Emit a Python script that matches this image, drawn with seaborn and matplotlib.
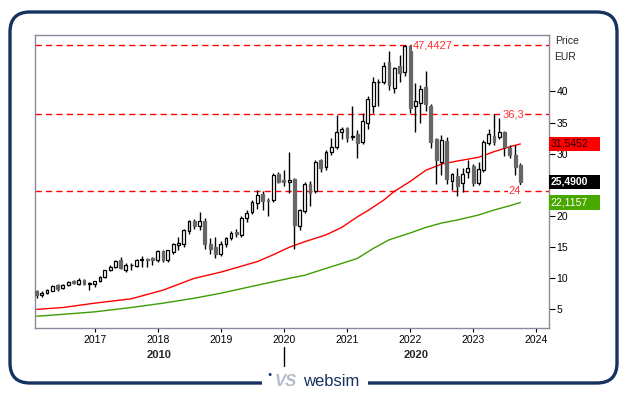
import numpy as np
import pandas as pd
import matplotlib
matplotlib.use("Agg")
import matplotlib.pyplot as plt
import matplotlib.dates as mdates
import matplotlib.patches as mpatches
import matplotlib.transforms as mtrans
import seaborn as sns

# ---------------- data (monthly candles, EUR) ----------------
start_month = "2016-02"
opens = [7.8, 7.2, 7.5, 7.9, 8.8, 8.3, 8.8, 9.4, 9.0, 9.6, 9.0,
         9.0, 9.4, 10.1, 11.2, 11.7, 12.8, 11.2, 12.0, 11.9, 12.9, 13.0, 13.1,
         12.8, 14.3, 12.9, 14.2, 15.2, 15.4, 17.6, 19.1, 18.4, 19.2, 15.5, 15.0,
         13.8, 15.5, 16.4, 17.4, 16.9, 19.7, 20.6, 22.0, 23.5, 22.6, 22.5, 26.7,
         25.7, 25.5, 25.9, 18.4, 20.7, 25.1, 23.9, 28.9, 27.9, 30.3, 31.0, 33.4,
         34.1, 32.7, 33.2, 31.8, 35.0, 37.7, 41.5, 41.6, 44.7, 40.5, 44.1, 43.2,
         47.3, 37.7, 38.1, 40.7, 37.7, 32.3, 28.7, 32.1, 25.6, 26.4, 25.2, 27.1,
         28.0, 25.2, 27.4, 31.7, 32.9, 32.7, 33.5, 30.9, 29.8, 28.2]
highs = [8.1, 7.9, 8.2, 8.9, 9.0, 9.0, 9.5, 9.6, 9.9, 9.8, 9.3,
         9.5, 10.3, 11.3, 12.0, 12.9, 13.4, 12.3, 12.3, 13.0, 13.5, 13.1, 13.4,
         14.5, 14.5, 14.5, 15.6, 16.5, 17.9, 19.3, 19.5, 20.6, 19.6, 16.4, 16.5,
         15.9, 16.6, 17.6, 17.8, 19.9, 20.9, 22.6, 24.1, 24.0, 22.8, 26.8, 27.0,
         27.4, 30.3, 26.0, 21.0, 25.4, 25.6, 29.0, 29.2, 30.5, 32.5, 36.2, 34.2,
         34.3, 37.6, 33.8, 36.5, 39.2, 42.3, 42.0, 44.7, 46.5, 44.0, 45.9, 47.4427,
         47.4427, 41.4, 41.1, 43.3, 38.0, 32.5, 33.0, 32.6, 26.9, 27.6, 27.6, 29.0,
         28.3, 28.6, 32.2, 33.9, 36.3, 35.7, 33.6, 31.4, 31.4, 28.5]
lows = [6.7, 6.9, 7.3, 7.8, 7.8, 8.2, 8.6, 9.0, 8.9, 8.8, 8.0,
        8.5, 9.3, 10.0, 11.1, 11.6, 11.4, 10.9, 11.3, 11.8, 11.8, 11.7, 12.1,
        12.5, 12.6, 12.5, 13.9, 14.5, 15.0, 17.1, 17.9, 17.7, 14.6, 13.8, 13.2,
        13.5, 15.0, 16.0, 16.6, 16.5, 19.0, 20.2, 21.1, 20.9, 19.9, 22.2, 25.2,
        24.8, 23.6, 14.7, 17.7, 20.4, 21.6, 23.6, 27.0, 27.4, 29.8, 30.8, 32.4,
        31.8, 32.2, 29.3, 31.5, 34.0, 36.5, 37.7, 41.2, 40.3, 39.7, 41.6, 42.5,
        36.5, 33.5, 35.0, 36.8, 30.9, 25.1, 26.5, 25.1, 24.1, 23.2, 23.8, 26.0,
        24.7, 25.0, 27.0, 31.3, 31.4, 32.3, 29.6, 29.3, 26.5, 24.0]
closes = [7.2, 7.6, 8.0, 8.7, 8.2, 8.9, 9.3, 9.1, 9.6, 9.0, 9.1,
          9.4, 10.1, 11.2, 11.8, 12.7, 11.5, 12.0, 12.1, 12.8, 13.0, 12.9, 12.8,
          14.3, 12.9, 14.4, 15.4, 15.55, 17.7, 19.2, 18.3, 19.1, 15.4, 14.7, 13.9,
          15.5, 16.35, 17.15, 17.0, 19.7, 20.4, 22.2, 23.3, 22.3, 22.4, 26.6, 25.5,
          25.5, 25.7, 18.5, 20.9, 25.05, 23.6, 28.7, 27.7, 30.3, 31.0, 33.4, 33.9,
          32.5, 32.8, 31.7, 35.2, 38.8, 41.5, 41.6, 44.1, 41.0, 43.8, 43.0, 47.3,
          37.3, 38.4, 40.4, 38.0, 31.9, 29.0, 32.2, 25.9, 26.7, 24.8, 26.7, 27.6,
          25.2, 27.5, 31.9, 33.2, 31.9, 33.5, 31.1, 29.8, 27.9, 25.49]

ma_red_dates = ["2016-02", "2016-07", "2017-01", "2017-08", "2018-02", "2018-08",
                "2019-01", "2019-08", "2019-11", "2020-02", "2020-05", "2020-09",
                "2020-12", "2021-03", "2021-05", "2021-08", "2021-10", "2022-01",
                "2022-04", "2022-07", "2022-10", "2023-02", "2023-05", "2023-08",
                "2023-10"]
ma_red_values = [4.9, 5.2, 5.9, 6.6, 8.0, 9.9, 10.9, 12.6, 13.7, 14.9, 15.8, 16.9,
                 18.1, 19.8, 20.8, 22.5, 23.9, 25.5, 27.3, 28.3, 28.8, 29.4, 30.3,
                 31.1, 31.5452]
ma_green_dates = ["2016-02", "2016-07", "2017-01", "2017-08", "2018-02", "2018-08",
                  "2019-01", "2019-08", "2019-11", "2020-02", "2020-05", "2020-09",
                  "2020-12", "2021-03", "2021-06", "2021-09", "2022-01", "2022-04",
                  "2022-07", "2022-10", "2023-02", "2023-05", "2023-08", "2023-10"]
ma_green_values = [3.8, 4.1, 4.5, 5.2, 5.9, 6.7, 7.5, 8.8, 9.35, 9.9, 10.4, 11.5,
                   12.3, 13.1, 14.7, 16.1, 17.2, 18.1, 18.8, 19.3, 20.1, 20.9, 21.6,
                   22.1157]

level_values = [47.4427, 36.3, 24.0]
level_labels = ["47,4427", "36,3", "24"]
level_label_dates = ["2022-01-17", "2023-06-20", "2023-07-24"]

last_values = [31.5452, 25.49, 22.1157]
last_labels = ["31,5452", "25,4900", "22,1157"]

year_ticks = [2017, 2018, 2019, 2020, 2021, 2022, 2023, 2024]
price_ticks = [5, 10, 15, 20, 25, 30, 35, 40]
price_tick_labels = ["5", "10", "15", "20", "", "30", "35", "40"]
decade_labels = ["2010", "2020"]
decade_split = "2020-01-01"

# ---------------- style ----------------
sns.set_style("white")
plt.rcParams["font.family"] = ["Liberation Sans", "DejaVu Sans"]

W, H = 629, 395
fig = plt.figure(figsize=(W / 100, H / 100), dpi=100)
fig.patch.set_facecolor("white")

L, R, T, B = 34.5, 549.0, 35.0, 328.0
ax = fig.add_axes([L / W, 1 - B / H, (R - L) / W, (B - T) / H])

dates = pd.date_range(start_month, periods=len(opens), freq="MS")
x = mdates.date2num(dates)
o = np.array(opens); h = np.array(highs); l = np.array(lows); c = np.array(closes)
up = c >= o
bottom = np.minimum(o, c)
height = np.maximum(np.abs(c - o), 0.1)

# moving averages
red_df = pd.DataFrame({"d": mdates.date2num(pd.to_datetime(ma_red_dates)), "v": ma_red_values})
green_df = pd.DataFrame({"d": mdates.date2num(pd.to_datetime(ma_green_dates)), "v": ma_green_values})
sns.lineplot(data=red_df, x="d", y="v", color="#ff0000", lw=1.0, ax=ax, zorder=2)
sns.lineplot(data=green_df, x="d", y="v", color="#3c9e00", lw=1.0, ax=ax, zorder=2)

# levels
for v in level_values:
    ax.axhline(v, color="#ff0000", lw=1.0, linestyle=(0, (4.5, 3.0)), zorder=1)
for v, lab, d in zip(level_values, level_labels, level_label_dates):
    ax.text(mdates.date2num(pd.Timestamp(d)), v, lab, color="#ff3030", fontsize=8,
            ha="left", va="center", zorder=5,
            bbox=dict(fc="white", ec="none", pad=0.6))

# candles
ax.vlines(x, l, h, color="black", lw=1.0, zorder=3)
ax.bar(x[up], height[up], bottom=bottom[up], width=16, facecolor="white",
       edgecolor="black", lw=0.9, zorder=4)
ax.bar(x[~up], height[~up], bottom=bottom[~up], width=16, facecolor="#666666",
       edgecolor="#666666", lw=0.9, zorder=4)

ax.set_xlabel(""); ax.set_ylabel("")
px_per_day = 5.26 / 30.44
xlim0 = x[0] - 2.2 / px_per_day
xlim1 = x[0] + (R - 36.7) / px_per_day
ax.set_xlim(xlim0, xlim1)
ax.set_ylim(1.9, 49.1)

ax.yaxis.tick_right()
ax.set_yticks(price_ticks)
ax.set_yticklabels(price_tick_labels)
yt = [mdates.date2num(pd.Timestamp(f"{yy}-01-01")) for yy in year_ticks]
ax.set_xticks(yt)
ax.set_xticklabels([str(yy) for yy in year_ticks])
ax.tick_params(axis="y", direction="out", length=4, width=0.8, pad=1.5,
               labelsize=7.5, colors="black", right=True, left=False)
ax.tick_params(axis="x", direction="out", length=3, width=0.8, pad=2,
               labelsize=7.5, colors="black", bottom=True)
for s in ax.spines.values():
    s.set_color("#8a8a9a")
    s.set_linewidth(1.0)

# decade labels
bt = mtrans.blended_transform_factory(ax.transData, ax.transAxes)
split = mdates.date2num(pd.Timestamp(decade_split))
ax.text((xlim0 + split) / 2, -0.092, decade_labels[0], transform=bt, ha="center",
        va="center", fontsize=8, fontweight="bold")
ax.text((split + xlim1) / 2, -0.092, decade_labels[1], transform=bt, ha="center",
        va="center", fontsize=8, fontweight="bold")
ax.plot([split, split], [-0.065, -0.13], transform=bt, color="black", lw=1,
        clip_on=False)

# right-side price boxes
br = mtrans.blended_transform_factory(ax.transAxes, ax.transData)
box_w = 51 / (R - L)
box_h = 14 / 6.2
box_styles = [("#ff0000", "#200000", "normal"), ("#000000", "white", "bold"),
              ("#48a800", "white", "normal")]
for v, lab, (fc, tc, fw) in zip(last_values, last_labels, box_styles):
    ax.add_patch(mpatches.Rectangle((1.0, v - box_h / 2), box_w, box_h,
                                    transform=br, facecolor=fc, edgecolor="none",
                                    clip_on=False, zorder=6))
    ax.text(1.0 + 1.5 / (R - L), v, lab, transform=br, color=tc, fontsize=7.5,
            fontweight=fw, ha="left", va="center", zorder=7, clip_on=False)

fig.text(555 / W, 1 - 41.5 / H, "Price", fontsize=7.5, ha="left", va="center")
fig.text(554 / W, 1 - 57 / H, "EUR", fontsize=7.5, ha="left", va="center")

# outer rounded frame
frame = mpatches.FancyBboxPatch((0.10, 0.12), 6.07, 3.71,
                                boxstyle="round,pad=0,rounding_size=0.2",
                                transform=fig.dpi_scale_trans, facecolor="none",
                                edgecolor="#16325e", lw=2.4, zorder=0)
fig.patches.append(frame)
gap = mpatches.Rectangle((262 / W, 1 - 390 / H), 106 / W, 14 / H,
                         transform=fig.transFigure, facecolor="white",
                         edgecolor="none", zorder=1)
fig.patches.append(gap)
fig.text(270 / W, 1 - 374 / H, "\u25cf", fontsize=5, color="#16325e",
         ha="center", va="center")
fig.text(286 / W, 1 - 381 / H, "VS", fontsize=12, color="#b4bccb",
         fontweight="bold", style="italic", ha="center", va="center")
fig.text(331 / W, 1 - 381 / H, "websim", fontsize=12, color="#16325e",
         ha="center", va="center")

fig.savefig("out.png", dpi=100, facecolor="white")
